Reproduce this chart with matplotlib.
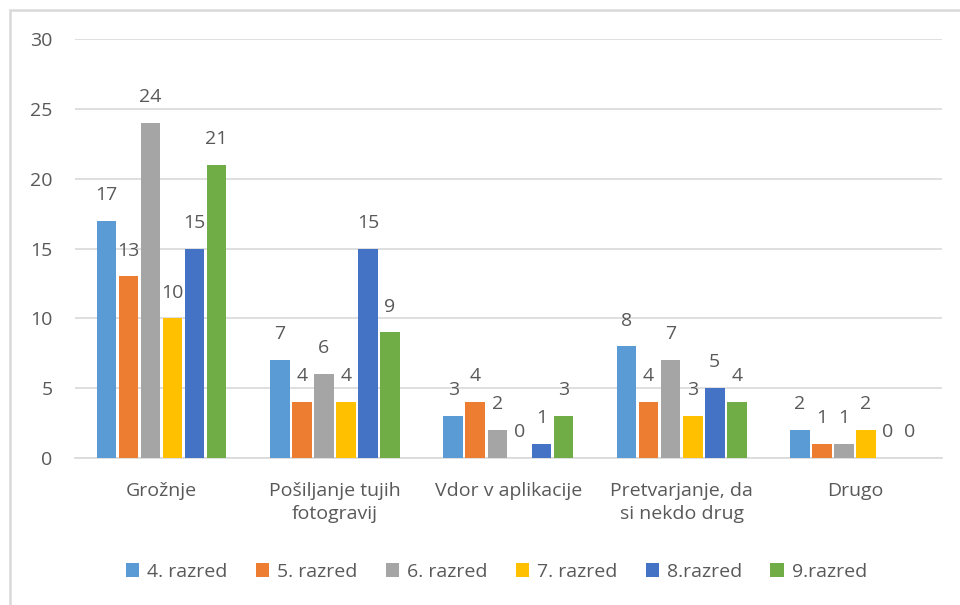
import matplotlib.pyplot as plt
import numpy as np
from matplotlib.patches import Rectangle

categories = ["Grožnje", "Pošiljanje tujih\nfotogravij", "Vdor v aplikacije",
              "Pretvarjanje, da\nsi nekdo drug", "Drugo"]
series_names = ["4. razred", "5. razred", "6. razred", "7. razred", "8.razred", "9.razred"]
razred4 = [17, 7, 3, 8, 2]
razred5 = [13, 4, 4, 4, 1]
razred6 = [24, 6, 2, 7, 1]
razred7 = [10, 4, 0, 3, 2]
razred8 = [15, 15, 1, 5, 0]
razred9 = [21, 9, 3, 4, 0]
colors = ["#5B9BD5", "#ED7D31", "#A5A5A5", "#FFC000", "#4472C4", "#70AD47"]

plt.rcParams['font.family'] = ['Open Sans', 'DejaVu Sans']
txt = "#595959"
fs = 14

fig = plt.figure(figsize=(9.6, 6.05), dpi=100)
ax = fig.add_axes([0.078, 0.243, 0.903, 0.6925])

# chart border (only left and top edges visible in the original crop)
fig.patches.append(Rectangle((10/960, -0.05), 1.0, 1 - 10/605 + 0.05,
                             transform=fig.transFigure, fill=False,
                             edgecolor="#D9D9D9", linewidth=1.8))

data = [razred4, razred5, razred6, razred7, razred8, razred9]
x = np.arange(len(categories))
slot = 0.127
w = 0.113
for i, (vals, name, c) in enumerate(zip(data, series_names, colors)):
    pos = x + (i - 2.5) * slot
    ax.bar(pos, vals, w, color=c, label=name, zorder=3)
    for p, v in zip(pos, vals):
        ax.text(p, v + 1.2, str(v), ha="center", va="bottom", fontsize=fs, color=txt)

ax.set_xlim(-0.5, 4.5)
ax.set_ylim(0, 30)
ax.set_yticks(range(0, 31, 5))
ax.set_xticks(x)
ax.set_xticklabels(categories, fontsize=fs, color=txt, linespacing=1.4)
ax.tick_params(axis="y", labelsize=fs, colors=txt, length=0, pad=16)
ax.tick_params(axis="x", length=0, pad=17)
ax.grid(axis="y", color="#D9D9D9", linewidth=1.2, zorder=0)
for s in ["left", "right", "top"]:
    ax.spines[s].set_visible(False)
ax.spines["bottom"].set_color("#D9D9D9")
ax.spines["bottom"].set_linewidth(1.2)

fig.legend(loc="center", bbox_to_anchor=(0.517, 1 - 572/605), ncol=6, frameon=False,
           fontsize=fs, labelcolor=txt, handlelength=0.7, handleheight=0.7,
           handletextpad=0.4, columnspacing=1.45)

plt.savefig("out.png", dpi=100)
